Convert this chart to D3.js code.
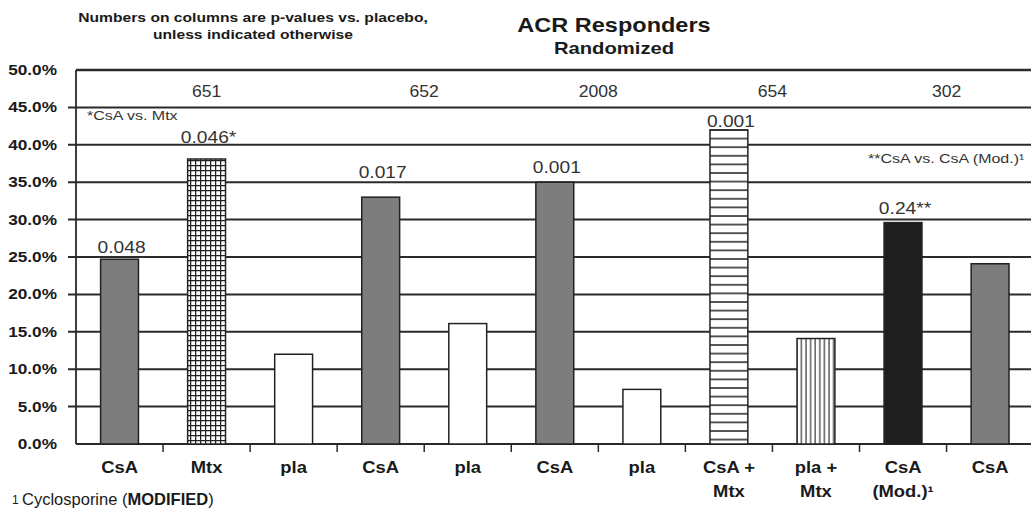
<!DOCTYPE html>
<html>
<head>
<meta charset="utf-8">
<script src="https://cdn.jsdelivr.net/npm/d3@7"></script>
<style>
  body { margin: 0; background: #fff; }
  svg { display: block; font-family: "Liberation Sans", Arial, sans-serif; }
</style>
</head>
<body>
<svg width="1031" height="512"></svg>
<script>
// data
var categories = ["CsA", "Mtx", "pla", "CsA", "pla", "CsA", "pla", "CsA +|Mtx", "pla +|Mtx", "CsA|(Mod.)¹", "CsA"];
var values = [24.7, 38.1, 12.0, 33.0, 16.1, 35.0, 7.3, 42.0, 14.1, 29.6, 24.1];
var pLabels = ["0.048", "0.046*", "", "0.017", "", "0.001", "", "0.001", "", "0.24**", ""];
var fills = ["gray", "cross", "white", "gray", "white", "gray", "white", "hlines", "vlines", "black", "gray"];
var groupLabels = ["651", "652", "2008", "654", "302"];
var groupSizes = [3, 2, 2, 2, 2];
var yTicks = [0, 5, 10, 15, 20, 25, 30, 35, 40, 45, 50];

var svg = d3.select("svg");

var x = d3.scaleBand()
    .domain(d3.range(categories.length))
    .range([76, 1033.6])
    .paddingInner(0.565)
    .paddingOuter(0.2825);
var y = d3.scaleLinear().domain([0, 50]).range([444, 70]);

// edge of band i (also works for i == n, the right end)
function boundary(i) { return x.range()[0] + i * x.step(); }

// text with a bit of horizontal stretch, like the scanned original
function txt(parent, px, py, str, o) {
    o = o || {};
    return parent.append("text")
        .attr("transform", "translate(" + px + "," + py + ") scale(" + (o.sx || 1) + ",1)")
        .attr("text-anchor", o.anchor || "middle")
        .attr("font-size", o.size || 14)
        .attr("font-weight", o.weight || "normal")
        .attr("fill", o.color || "#1a1a1a")
        .text(str);
}

// fill patterns
var defs = svg.append("defs");
var p1 = defs.append("pattern").attr("id", "cross").attr("patternUnits", "userSpaceOnUse")
    .attr("width", 5).attr("height", 5);
p1.append("rect").attr("width", 5).attr("height", 5).attr("fill", "#fff");
p1.append("path").attr("d", "M0,0.6 H5 M0.6,0 V5").attr("stroke", "#222").attr("stroke-width", 1.3);

var p2 = defs.append("pattern").attr("id", "hlines").attr("patternUnits", "userSpaceOnUse")
    .attr("width", 10).attr("height", 8.6);
p2.append("rect").attr("width", 10).attr("height", 8.6).attr("fill", "#fff");
p2.append("path").attr("d", "M0,1 H10").attr("stroke", "#222").attr("stroke-width", 1.5);

var p3 = defs.append("pattern").attr("id", "vlines").attr("patternUnits", "userSpaceOnUse")
    .attr("width", 4.6).attr("height", 10);
p3.append("rect").attr("width", 4.6).attr("height", 10).attr("fill", "#fff");
p3.append("path").attr("d", "M1,0 V10").attr("stroke", "#222").attr("stroke-width", 1.1);

var fillColor = {gray: "#7d7d7d", white: "#fff", black: "#1e1e1e",
    cross: "url(#cross)", hlines: "url(#hlines)", vlines: "url(#vlines)"};

// gridlines
svg.append("g").selectAll("line")
    .data(yTicks)
    .enter().append("line")
    .attr("x1", function (d) { return (d === 0 || d === 50) ? 76 : 68; })
    .attr("x2", 1031)
    .attr("y1", function (d) { return y(d); })
    .attr("y2", function (d) { return y(d); })
    .attr("stroke", "#2a2a2a")
    .attr("stroke-width", function (d) { return d === 50 ? 2.5 : 2; });

// left axis line
svg.append("line").attr("x1", 76).attr("x2", 76).attr("y1", y(50)).attr("y2", y(0))
    .attr("stroke", "#2a2a2a").attr("stroke-width", 1.8);

// bottom tick marks at band edges
svg.append("g").selectAll("line")
    .data(d3.range(1, categories.length))
    .enter().append("line")
    .attr("x1", function (i) { return boundary(i); })
    .attr("x2", function (i) { return boundary(i); })
    .attr("y1", y(0)).attr("y2", y(0) + 8)
    .attr("stroke", "#2a2a2a").attr("stroke-width", 1.5);

// y tick labels
yTicks.forEach(function (v) {
    txt(svg, 57, y(v) + 5, v.toFixed(1) + "%", {anchor: "end", size: 14, weight: "bold", sx: 1.23});
});

// bars
svg.append("g").selectAll("rect")
    .data(values)
    .enter().append("rect")
    .attr("x", function (d, i) { return x(i); })
    .attr("y", function (d) { return y(d); })
    .attr("width", x.bandwidth())
    .attr("height", function (d) { return y(0) - y(d); })
    .attr("fill", function (d, i) { return fillColor[fills[i]]; })
    .attr("stroke", "#222")
    .attr("stroke-width", 1.5);

// p-values over the bars
var pGap = [6, 16, 0, 19, 0, 9, 0, 3, 0, 9, 0];
pLabels.forEach(function (s, i) {
    if (!s) return;
    txt(svg, x(i) + x.bandwidth() / 2 + 2, y(values[i]) - pGap[i], s, {size: 17, sx: 1.13, color: "#333"});
});

// group numbers in the top row
var start = 0;
groupLabels.forEach(function (g, k) {
    var cx = (boundary(start) + boundary(start + groupSizes[k])) / 2;
    txt(svg, cx, 97, g, {size: 16, sx: 1.1, color: "#333"});
    start += groupSizes[k];
});

// category labels
categories.forEach(function (c, i) {
    var lines = c.split("|");
    lines.forEach(function (l, j) {
        txt(svg, x(i) + x.bandwidth() / 2, 473 + j * 24, l, {size: 16, weight: "bold", sx: 1.15});
    });
});

// notes inside the plot
txt(svg, 87, 120, "*CsA vs. Mtx", {anchor: "start", size: 12.5, sx: 1.28, color: "#333"});
txt(svg, 868, 163, "**CsA vs. CsA (Mod.)¹", {anchor: "start", size: 12.5, sx: 1.28, color: "#333"});

// header
txt(svg, 253, 22, "Numbers on columns are p-values vs. placebo,", {size: 13.5, weight: "bold", sx: 1.16});
txt(svg, 253, 39, "unless indicated otherwise", {size: 13.5, weight: "bold", sx: 1.16});
txt(svg, 614, 32, "ACR Responders", {size: 21, weight: "bold", sx: 1.12});
txt(svg, 614, 54, "Randomized", {size: 17, weight: "bold", sx: 1.19});

// footnote
var fn = svg.append("text").attr("x", 12).attr("y", 505).attr("font-size", 16.5).attr("fill", "#1a1a1a");
fn.append("tspan").attr("font-size", 12).attr("dy", -1).text("1 ");
fn.append("tspan").attr("dy", 1).text("Cyclosporine (");
fn.append("tspan").attr("font-weight", "bold").text("MODIFIED");
fn.append("tspan").text(")");
</script>
</body>
</html>
